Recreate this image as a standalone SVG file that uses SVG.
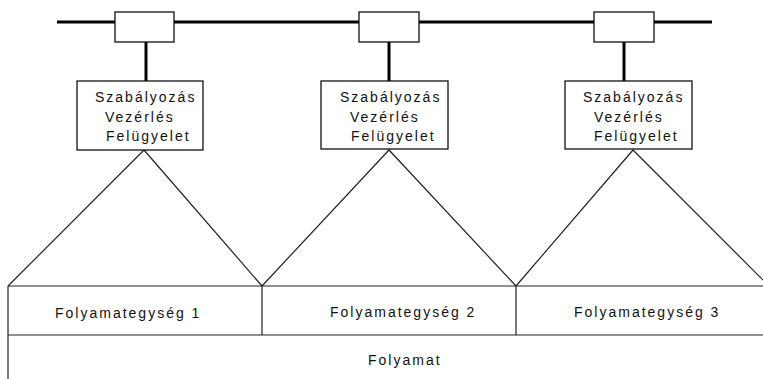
<svg xmlns="http://www.w3.org/2000/svg" width="763" height="379" viewBox="0 0 763 379">
<style>
.bg{fill:#fff}
.box{fill:#fff;stroke:#111;stroke-width:1.3}
.thick{stroke:#000;stroke-width:3;fill:none}
.thin{stroke:#222;stroke-width:1.2;fill:none}
text{font-family:"Liberation Sans",Arial,sans-serif;font-size:14px;letter-spacing:2px;fill:#111}
</style>
<rect class="bg" x="0" y="0" width="763" height="379"/>
<g id="connectors">
<line class="thick" x1="57" y1="22" x2="712" y2="22"/>
<line class="thick" x1="146" y1="42" x2="146" y2="81"/>
<line class="thick" x1="389" y1="42" x2="389" y2="81"/>
<line class="thick" x1="624" y1="42" x2="624" y2="81"/>
<polyline class="thin" points="8,286 144,150 262,286"/>
<polyline class="thin" points="262,286 389,150 516,286"/>
<polyline class="thin" points="516,286 633,150 769,286"/>
</g>
<g id="bus1"><rect class="box" x="115" y="12" width="59" height="30"/></g>
<g id="bus2"><rect class="box" x="359" y="12" width="60" height="30"/></g>
<g id="bus3"><rect class="box" x="594" y="12" width="60" height="30"/></g>
<g id="ctrl1">
<rect class="box" x="77" y="81" width="126" height="69"/>
<text x="95" y="102">Szabályozás</text>
<text x="105" y="122">Vezérlés</text>
<text x="106" y="141">Felügyelet</text>
</g>
<g id="ctrl2">
<rect class="box" x="321" y="81" width="127" height="68"/>
<text x="340" y="102">Szabályozás</text>
<text x="350" y="122">Vezérlés</text>
<text x="351" y="141">Felügyelet</text>
</g>
<g id="ctrl3">
<rect class="box" x="565" y="81" width="127" height="68"/>
<text x="583" y="102">Szabályozás</text>
<text x="594" y="122">Vezérlés</text>
<text x="594" y="141">Felügyelet</text>
</g>
<g id="process">
<line class="thin" x1="8" y1="286" x2="763" y2="286"/>
<line class="thin" x1="8" y1="335" x2="763" y2="335"/>
<line class="thin" x1="8" y1="286" x2="8" y2="379"/>
<text x="368" y="365">Folyamat</text>
</g>
<g id="unit1">
<line class="thin" x1="262" y1="286" x2="262" y2="335"/>
<text x="55" y="318">Folyamategység 1</text>
</g>
<g id="unit2">
<line class="thin" x1="516" y1="286" x2="516" y2="335"/>
<text x="330" y="317">Folyamategység 2</text>
</g>
<g id="unit3">
<text x="574" y="317">Folyamategység 3</text>
</g>
</svg>
